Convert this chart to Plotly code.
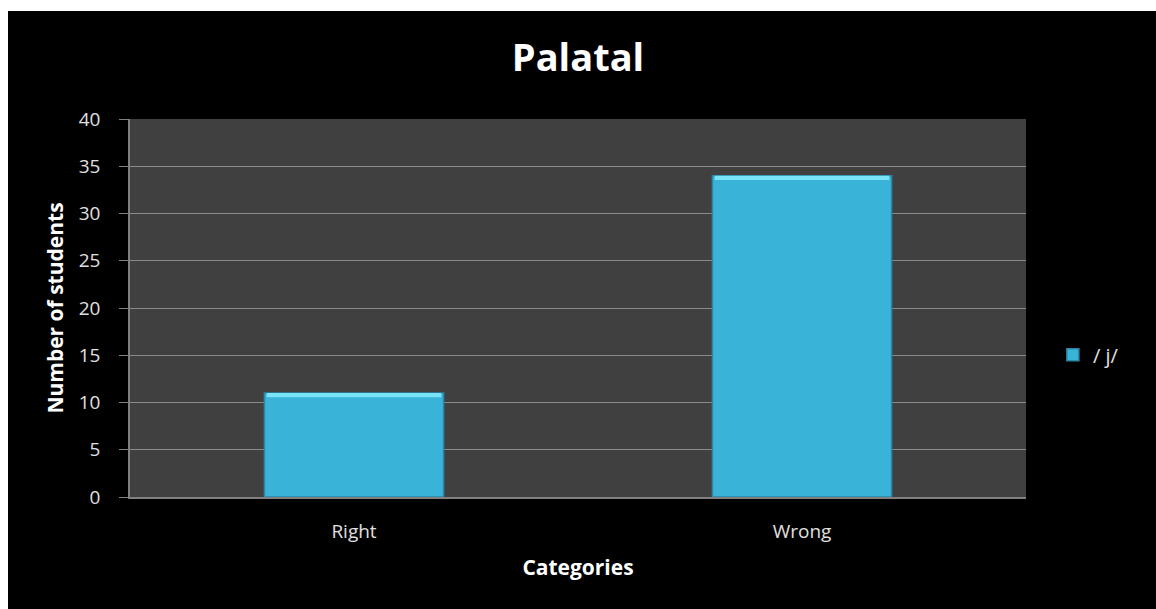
import plotly.graph_objects as go

categories = ["Right", "Wrong"]
students = [11, 34]
series_name = "/ j/"

BAR = "#39b3d8"
EDGE = "#2a87a6"
HILITE = "#79e3f8"
FONT = "'Open Sans', sans-serif"

# plot area in pixels: x 130..1026, y 119..497
PL, PR, PT, PB = 130, 1026, 119, 497
PW, PH = PR - PL, PB - PT

fig = go.Figure()
fig.add_trace(go.Bar(
    x=categories, y=students, name=series_name,
    marker=dict(color=BAR, line=dict(color=EDGE, width=1.5)),
    width=0.4,
))
# thin light strip on the top of each bar (bevel look)
fig.add_trace(go.Bar(
    x=categories, y=[0.45] * len(students), base=[v - 0.45 for v in students],
    marker=dict(color=HILITE, line=dict(width=0)),
    width=0.39, showlegend=False, hoverinfo="skip",
))

fig.update_layout(
    width=1156, height=609,
    margin=dict(l=PL, r=1156 - PR, t=PT, b=609 - PB),
    paper_bgcolor="black", plot_bgcolor="#404040",
    barmode="overlay",
    font=dict(family=FONT, color="#e0e0e0", size=19),
    title=dict(text="<b>Palatal</b>", x=0.5, xanchor="center", y=0.906, yanchor="middle",
               font=dict(size=38, color="white", family=FONT)),
    legend=dict(x=1.03, y=0.376, xanchor="left", yanchor="middle",
                font=dict(size=20, color="#e0e0e0"), bgcolor="rgba(0,0,0,0)"),
    shapes=[
        # white border along the top and left edges
        dict(type="rect", xref="paper", yref="paper", x0=-0.3, x1=1.3,
             y0=(PB - 11) / PH, y1=1.5, fillcolor="white", line_width=0, layer="below"),
        dict(type="rect", xref="paper", yref="paper", x0=-0.3, x1=(8 - PL) / PW,
             y0=-0.5, y1=1.5, fillcolor="white", line_width=0, layer="below"),
    ],
)
fig.update_xaxes(
    showgrid=False, showline=True, linecolor="#808080", linewidth=1.5,
    ticks="", ticklabelstandoff=16,
    title=dict(text="<b>Categories</b>", font=dict(size=21, color="white"), standoff=18),
)
fig.update_yaxes(
    range=[0, 40], dtick=5, showgrid=True, gridcolor="#8a8a8a", gridwidth=1,
    showline=True, linecolor="#808080", linewidth=1.5,
    ticks="outside", ticklen=9, tickcolor="#808080", ticklabelstandoff=15,
    zeroline=False,
    title=dict(text="<b>Number of students</b>", font=dict(size=21, color="white"), standoff=9),
)

fig.write_html(
    "out.html",
    config={"displayModeBar": False},
    post_script="document.body.style.margin='0';document.body.style.overflow='hidden';",
)
